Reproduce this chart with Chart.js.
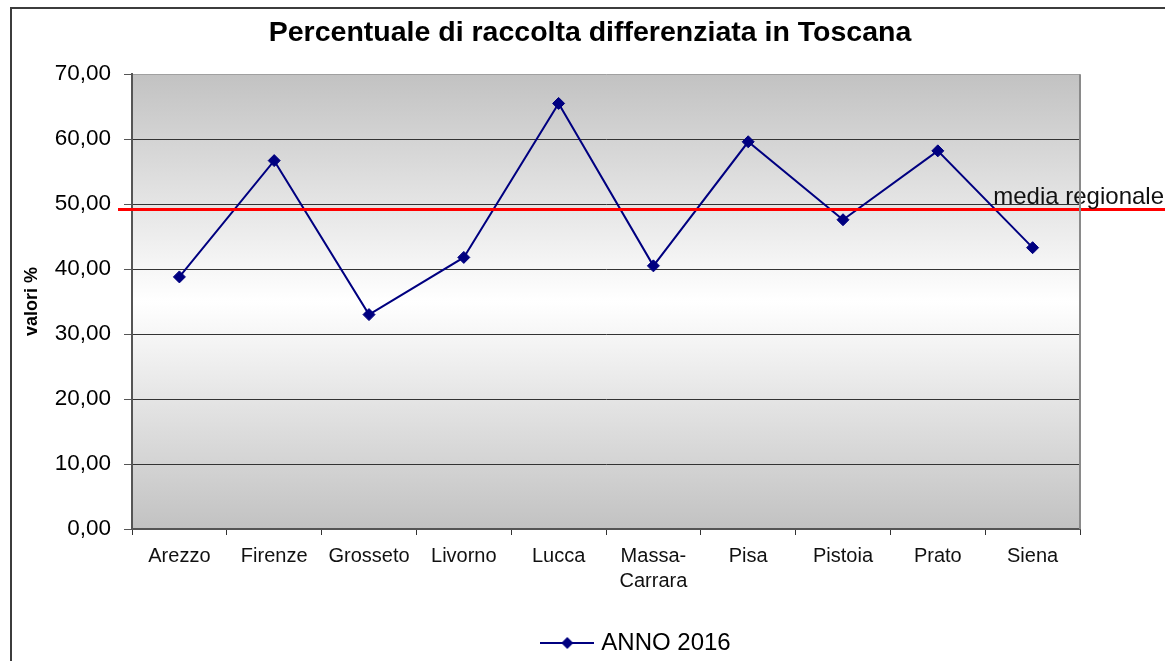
<!DOCTYPE html>
<html lang="it">
<head>
<meta charset="utf-8">
<title>Percentuale di raccolta differenziata in Toscana</title>
<script src="https://cdn.jsdelivr.net/npm/chart.js@4/dist/chart.umd.min.js"></script>
<style>
    html, body { margin: 0; padding: 0; background: #fff; overflow: hidden; }
    #wrap { position: relative; width: 1165px; height: 661px; }
    #frame {
        position: absolute; left: 10px; top: 7px; width: 1400px; height: 800px;
        border-left: 2px solid #3c3c3c; border-top: 2px solid #3c3c3c;
        pointer-events: none;
    }
</style>
</head>
<body>
<div id="wrap">
    <canvas id="raccolta"></canvas>
    <div id="frame"></div>
</div>
<script>
'use strict';

// ── Data ───────────────────────────────────────────────────────────────────
const PROVINCE = ['Arezzo', 'Firenze', 'Grosseto', 'Livorno', 'Lucca',
    ['Massa-', 'Carrara'], 'Pisa', 'Pistoia', 'Prato', 'Siena'];
const ANNO_2016 = [38.8, 56.7, 33.0, 41.8, 65.5, 40.5, 59.6, 47.6, 58.2, 43.3];
const MEDIA_REGIONALE = 49.3;
const Y_TICKS = [0, 10, 20, 30, 40, 50, 60, 70];

const FONT = '"Liberation Sans", Arial, sans-serif';
const NAVY = '#000080';

const fmt = v => v.toFixed(2).replace('.', ',');

// legend swatch: short line with a diamond in the middle
function legendSwatch() {
    const c = document.createElement('canvas');
    c.width = 54; c.height = 14;
    const g = c.getContext('2d');
    g.strokeStyle = NAVY; g.lineWidth = 2;
    g.beginPath(); g.moveTo(0, 7); g.lineTo(54, 7); g.stroke();
    g.fillStyle = NAVY;
    g.beginPath(); g.moveTo(21, 7); g.lineTo(27, 1); g.lineTo(33, 7); g.lineTo(27, 13); g.closePath(); g.fill();
    return c;
}

// ── Plugins ────────────────────────────────────────────────────────────────
// gray → white → gray fill behind the plot, plus right frame
const plotBackground = {
    id: 'plotBackground',
    beforeDraw(chart) {
        const { ctx, chartArea: a } = chart;
        const grad = ctx.createLinearGradient(0, a.top, 0, a.bottom);
        grad.addColorStop(0, '#c2c2c2');
        grad.addColorStop(0.5, '#ffffff');
        grad.addColorStop(1, '#c2c2c2');
        ctx.save();
        ctx.fillStyle = grad;
        ctx.fillRect(a.left, a.top, a.right - a.left, a.bottom - a.top);
        ctx.restore();
    },
    afterDraw(chart) {
        const { ctx, chartArea: a } = chart;
        ctx.save();
        ctx.strokeStyle = '#8a8a8a';
        ctx.lineWidth = 2;
        ctx.beginPath();
        ctx.moveTo(a.right, a.top);
        ctx.lineTo(a.right, a.bottom);
        ctx.stroke();
        ctx.restore();
    },
};

// red "media regionale" line, runs past the plot up to the canvas edge
const mediaLine = {
    id: 'mediaLine',
    afterDatasetsDraw(chart) {
        const { ctx, chartArea: a, scales: { y } } = chart;
        const py = Math.round(y.getPixelForValue(MEDIA_REGIONALE)) + 0.5;
        ctx.save();
        ctx.strokeStyle = '#ff0000';
        ctx.lineWidth = 3;
        ctx.beginPath();
        ctx.moveTo(a.left - 14, py);
        ctx.lineTo(chart.width, py);
        ctx.stroke();
        ctx.fillStyle = '#111';
        ctx.font = '24px ' + FONT;
        ctx.textAlign = 'right';
        ctx.textBaseline = 'alphabetic';
        ctx.fillText('media regionale', chart.width - 1, py - 6);
        ctx.restore();
    },
};

// title and legend are not centred on the canvas in the original
const boxOffsets = {
    id: 'boxOffsets',
    afterLayout(chart) {
        const shift = (box, cx, dy) => {
            if (!box) return;
            const d = cx - (box.left + box.right) / 2;
            box.left += d; box.right += d;
            box.top += dy; box.bottom += dy;
        };
        shift(chart.titleBlock, 590, 0);
        shift(chart.legend, 638, 4);
    },
};

// ── Chart ──────────────────────────────────────────────────────────────────
new Chart(document.getElementById('raccolta'), {
    type: 'line',
    data: {
        labels: PROVINCE,
        datasets: [{
            label: 'ANNO 2016',
            data: ANNO_2016,
            borderColor: NAVY,
            borderWidth: 2,
            backgroundColor: NAVY,
            pointStyle: 'rectRot',
            pointRadius: 6,
            pointBorderWidth: 1,
            pointBorderColor: NAVY,
            pointBackgroundColor: NAVY,
            tension: 0,
            fill: false,
        }],
    },
    options: {
        responsive: true,
        maintainAspectRatio: false,
        animation: false,
        events: [],
        layout: { padding: { left: 20, right: 85, top: 0, bottom: 0 } },
        scales: {
            x: {
                offset: true,
                grid: {
                    offset: true,
                    drawOnChartArea: false,
                    tickLength: 6,
                    tickColor: '#333',
                },
                border: { color: '#555', width: 2 },
                ticks: {
                    color: '#111',
                    padding: 9,
                    maxRotation: 0,
                    autoSkip: false,
                    font: { family: FONT, size: 20, lineHeight: 1.25 },
                },
                afterFit: s => { s.height = 88; },
            },
            y: {
                min: 0,
                max: 70,
                afterBuildTicks: s => { s.ticks = Y_TICKS.map(v => ({ value: v })); },
                grid: {
                    color: c => (c.tick && c.tick.value === 70 ? '#a0a0a0' : '#333'),
                    tickLength: 8,
                    tickColor: '#555',
                },
                border: { color: '#555', width: 2 },
                ticks: {
                    color: '#000',
                    padding: 13,
                    font: { family: FONT, size: 22.5 },
                    callback: v => fmt(v),
                },
                title: {
                    display: true,
                    text: 'valori %',
                    color: '#000',
                    font: { family: FONT, size: 18, weight: 'bold' },
                    padding: { top: 1, bottom: 0 },
                },
                afterFit: s => { s.width = 112; },
            },
        },
        plugins: {
            title: {
                display: true,
                text: 'Percentuale di raccolta differenziata in Toscana',
                color: '#000',
                font: { family: FONT, size: 28.5, weight: 'bold' },
                padding: { top: 16, bottom: 24 },
            },
            legend: {
                position: 'bottom',
                labels: {
                    color: '#000',
                    font: { family: FONT, size: 24 },
                    usePointStyle: true,
                    pointStyleWidth: 44,
                    padding: 10,
                    generateLabels: chart => chart.data.datasets.map((ds, i) => ({
                        text: ds.label,
                        pointStyle: legendSwatch(),
                        fillStyle: NAVY,
                        strokeStyle: NAVY,
                        lineWidth: 0,
                        hidden: false,
                        datasetIndex: i,
                    })),
                },
            },
            tooltip: { enabled: false },
        },
    },
    plugins: [plotBackground, mediaLine, boxOffsets],
});
</script>
</body>
</html>
